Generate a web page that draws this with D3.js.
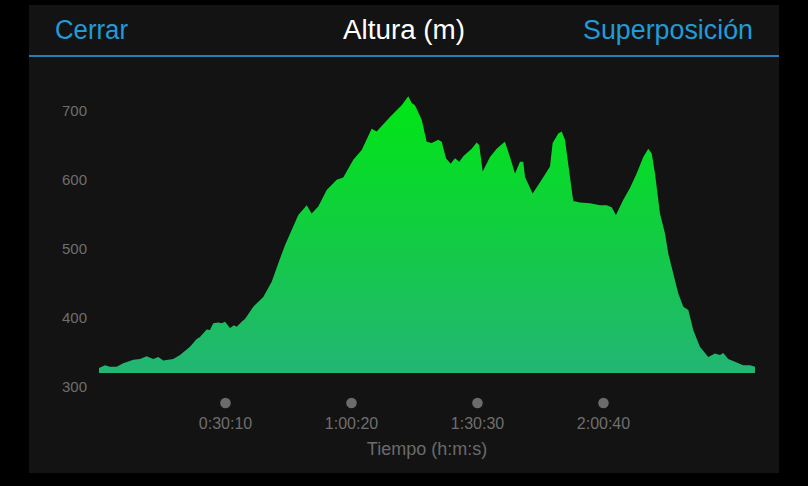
<!DOCTYPE html>
<html>
<head>
<meta charset="utf-8">
<script src="https://cdn.jsdelivr.net/npm/d3@7"></script>
<style>
  html, body { margin: 0; padding: 0; background: #000; }
  svg { display: block; }
</style>
</head>
<body>
<svg id="chart" width="808" height="486"></svg>
<script>
// ---- Data ----
const timeSeconds = [0, 86, 158, 254, 349, 493, 589, 685, 780, 852, 924, 1067, 1164, 1307, 1403, 1451, 1547, 1594, 1642, 1714,
  1763, 1810, 1882, 1939, 1978, 2050, 2097, 2217, 2360, 2481, 2576, 2672, 2768, 2863, 2984, 3055, 3150, 3271, 3415, 3509,
  3653, 3774, 3917, 3989, 4180, 4348, 4443, 4492, 4539, 4636, 4707, 4779, 4874, 4923, 4985, 5052, 5114, 5176, 5233, 5354,
  5426, 5463, 5512, 5617, 5713, 5808, 5832, 5904, 5976, 6048, 6095, 6120, 6230, 6359, 6479, 6517, 6598, 6647, 6694, 6766,
  6813, 6910, 7053, 7197, 7293, 7365, 7427, 7532, 7628, 7724, 7819, 7891, 7940, 7987, 8059, 8131, 8178, 8250, 8322, 8394,
  8466, 8537, 8633, 8753, 8849, 8921, 8968, 9040, 9161, 9255, 9352, 9424];
const altitude = [326, 330, 328, 328, 333, 338, 339, 343, 339, 342, 337, 339, 345, 357, 368, 371, 382, 381, 391, 392,
  391, 393, 384, 388, 386, 393, 397, 415, 429, 451, 478, 504, 526, 548, 562, 550, 560, 584, 599, 602,
  628, 642, 673, 669, 690, 707, 720, 710, 707, 686, 654, 652, 657, 654, 630, 622, 630, 625, 633, 644,
  653, 649, 611, 632, 644, 652, 654, 632, 608, 625, 625, 603, 579, 599, 618, 652, 666, 669, 657, 603,
  568, 566, 565, 562, 562, 559, 548, 570, 587, 608, 632, 644, 637, 608, 550, 521, 492, 463, 434, 415,
  410, 381, 357, 342, 347, 345, 348, 339, 334, 330, 330, 328];
const yTickValues = [300, 400, 500, 600, 700];
const xTickValues = [1810, 3620, 5430, 7240];
const xTickLabels = ["0:30:10", "1:00:20", "1:30:30", "2:00:40"];
const headerLeft = "Cerrar";
const headerTitle = "Altura (m)";
const headerRight = "Superposición";
const xAxisTitle = "Tiempo (h:m:s)";
const areaBaseValue = 319;
const timeEnd = 9424;

const data = timeSeconds.map((t, i) => ({ t, v: altitude[i] }));

// ---- Drawing ----
const svg = d3.select("#chart");
const FONT = "'Liberation Sans', Arial, sans-serif";

// Panel background
svg.append("rect").attr("x", 0).attr("y", 0).attr("width", 808).attr("height", 486).attr("fill", "#000");
svg.append("rect").attr("x", 29).attr("y", 5).attr("width", 750).attr("height", 468).attr("fill", "#131313");

// Header
function fitText(sel, w) {
  sel.attr("textLength", w).attr("lengthAdjust", "spacingAndGlyphs");
}
svg.append("text").attr("x", 55).attr("y", 39).attr("font-family", FONT).attr("font-size", 27)
  .attr("fill", "#219bd8").text(headerLeft).call(fitText, 73);
svg.append("text").attr("x", 343).attr("y", 39).attr("font-family", FONT).attr("font-size", 27)
  .attr("fill", "#ffffff").text(headerTitle).call(fitText, 122);
svg.append("text").attr("x", 583).attr("y", 39).attr("font-family", FONT).attr("font-size", 27)
  .attr("fill", "#219bd8").text(headerRight).call(fitText, 170);
svg.append("rect").attr("x", 29).attr("y", 55).attr("width", 750).attr("height", 2).attr("fill", "#2580b5");

// Scales
const x = d3.scaleLinear().domain([0, timeEnd]).range([99, 755]);
const y = d3.scaleLinear().domain([300, 700]).range([386, 110]);

// Gradient
const defs = svg.append("defs");
const grad = defs.append("linearGradient").attr("id", "g").attr("gradientUnits", "userSpaceOnUse")
  .attr("x1", 0).attr("x2", 0).attr("y1", y(720)).attr("y2", y(areaBaseValue));
grad.append("stop").attr("offset", "0%").attr("stop-color", "#00e614");
grad.append("stop").attr("offset", "50%").attr("stop-color", "#12cd42");
grad.append("stop").attr("offset", "100%").attr("stop-color", "#22b574");

// Area
const area = d3.area()
  .x(d => x(d.t))
  .y0(y(areaBaseValue))
  .y1(d => y(d.v))
  .curve(d3.curveLinear);
svg.append("path").datum(data).attr("d", area).attr("fill", "url(#g)");

// Y axis
const yAxis = d3.axisLeft(y).tickValues(yTickValues).tickSize(0).tickPadding(0);
const gy = svg.append("g").attr("transform", "translate(87,0)").call(yAxis);
gy.select(".domain").remove();
gy.selectAll("text").attr("font-family", FONT).attr("font-size", 15).attr("fill", "#6e6e6e")
  .attr("text-anchor", "end").attr("dy", "0.35em").attr("x", 0);

// X axis
const xAxis = d3.axisBottom(x).tickValues(xTickValues).tickSize(0).tickPadding(0)
  .tickFormat((d, i) => xTickLabels[i]);
const gx = svg.append("g").attr("transform", "translate(0,403)").call(xAxis);
gx.select(".domain").remove();
gx.selectAll(".tick").append("circle").attr("cx", 0).attr("cy", 0).attr("r", 5.3).attr("fill", "#6b6b6b");
gx.selectAll("text").attr("font-family", FONT).attr("font-size", 16).attr("fill", "#6e6e6e")
  .attr("dy", 0).attr("y", 26).attr("text-anchor", "middle");

svg.append("text").attr("x", (x.range()[0] + x.range()[1]) / 2).attr("y", 455).attr("text-anchor", "middle")
  .attr("font-family", FONT).attr("font-size", 18).attr("fill", "#6b6b6b").text(xAxisTitle);
</script>
</body>
</html>
